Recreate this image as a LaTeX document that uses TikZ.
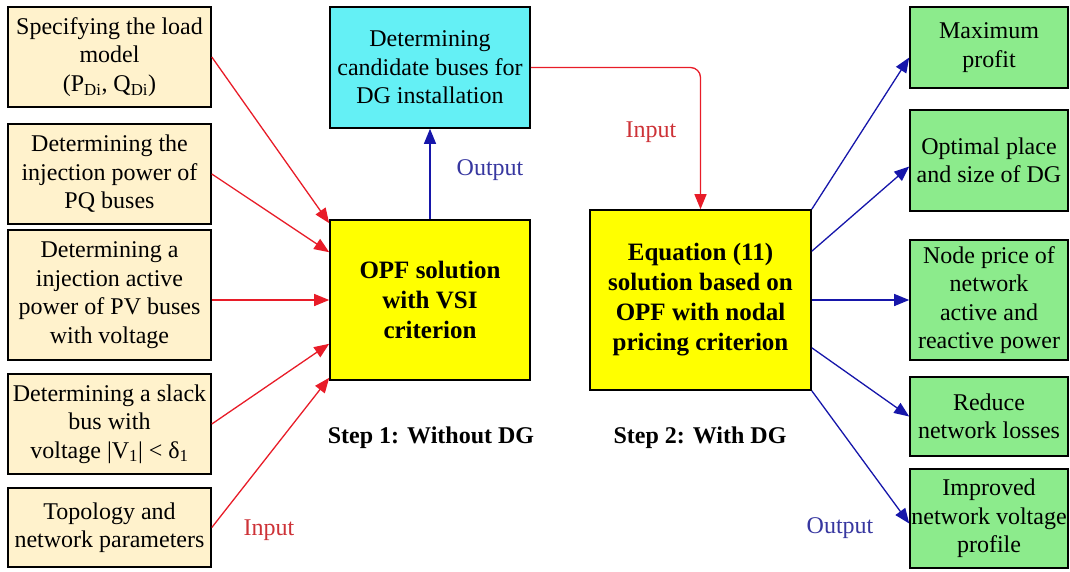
\documentclass[tikz,border=0pt]{standalone}
\usepackage{fontspec}
\setmainfont{Liberation Serif}
\usetikzlibrary{arrows.meta}

\definecolor{inbox}{RGB}{255,242,204}
\definecolor{candbox}{RGB}{100,240,245}
\definecolor{resbox}{RGB}{140,235,140}
\definecolor{solbox}{RGB}{255,255,0}
\definecolor{inred}{RGB}{232,28,40}
\definecolor{outblue}{RGB}{22,22,170}
\definecolor{inlabel}{RGB}{205,50,55}
\definecolor{outlabel}{RGB}{55,55,160}

\tikzset{
  box/.style={draw=black, line width=1.6pt, inner sep=0pt, align=center,
              font=\rmfamily\fontsize{24}{28.5}\selectfont},
  inputbox/.style={box, fill=inbox, minimum width=203pt},
  resultbox/.style={box, fill=resbox, minimum width=158pt},
  solvebox/.style={box, fill=solbox, font=\rmfamily\fontsize{25}{30}\selectfont\bfseries},
  redarrow/.style={draw=inred, line width=1.3pt, -{Triangle[length=15pt,width=12pt]}},
  bluearrow/.style={draw=outblue, line width=1.3pt, -{Triangle[length=15pt,width=12pt]}},
  lbl/.style={font=\rmfamily\fontsize{24}{28}\selectfont, inner sep=0pt},
  steplbl/.style={font=\rmfamily\fontsize{24}{28}\selectfont\bfseries, inner sep=0pt}
}

\begin{document}
\begin{tikzpicture}[x=1pt, y=-1pt]
\useasboundingbox (0,0) rectangle (1070,571);

% input data boxes
\node[inputbox, minimum height=100pt] (b1) at (109.5,57)
  {Specifying the load\\model\\(P\textsubscript{Di}, Q\textsubscript{Di})};
\node[inputbox, minimum height=100pt] (b2) at (109.5,174)
  {Determining the\\injection power of\\PQ buses};
\node[inputbox, minimum height=130pt] (b3) at (109.5,295)
  {Determining a\\injection active\\power of PV buses\\with voltage};
\node[inputbox, minimum height=100pt] (b4) at (109.5,424)
  {Determining a slack\\bus with\\voltage |V\textsubscript{1}| < δ\textsubscript{1}};
\node[inputbox, minimum height=79pt] (b5) at (109.5,527.5)
  {Topology and\\network parameters};

% step 1
\node[box, fill=candbox, minimum width=200pt, minimum height=121pt] (cand) at (430,67.5)
  {Determining\\candidate buses for\\DG installation};
\node[solvebox, minimum width=200pt, minimum height=160pt] (opf) at (430,300)
  {OPF solution\\with VSI\\criterion};

% step 2
\node[solvebox, minimum width=221pt, minimum height=180pt] (eq) at (700.5,300)
  {Equation (11)\\solution based on\\OPF with nodal\\pricing criterion};

% results
\node[resultbox, minimum height=81pt] (g1) at (989,47.5) {Maximum\\profit};
\node[resultbox, minimum height=101pt] (g2) at (989,160.5) {Optimal place\\and size of DG};
\node[resultbox, minimum height=120pt] (g3) at (989,300) {Node price of\\network\\active and\\reactive power};
\node[resultbox, minimum height=79pt] (g4) at (989,416.5) {Reduce\\network losses};
\node[resultbox, minimum height=99pt] (g5) at (989,518.5) {Improved\\network voltage\\profile};

% inputs into the OPF step
\draw[redarrow] (b1.east) -- ([yshift=-4pt]opf.north west);
\draw[redarrow] (b2.east) -- ([yshift=-33pt]opf.north west);
\draw[redarrow] (b3.east |- opf.west) -- (opf.west);
\draw[redarrow] (b4.east) -- ([yshift=37pt]opf.south west);
\draw[redarrow] (b5.east) -- ([yshift=3pt]opf.south west);

% step 1 output and link to step 2
\draw[bluearrow] (opf.north) -- (cand.south);
\draw[redarrow, rounded corners=10pt] (cand.east) -| (eq.north);

% step 2 outputs
\draw[bluearrow] (eq.north east) -- ([yshift=-10pt]g1.west);
\draw[bluearrow] ([yshift=-42pt]eq.north east) -- ([yshift=-6pt]g2.west);
\draw[bluearrow] (eq.east) -- (g3.west);
\draw[bluearrow] ([yshift=43pt]eq.south east) -- (g4.west);
\draw[bluearrow] (eq.south east) -- ([yshift=-5pt]g5.west);

% labels
\node[lbl, text=outlabel] (lout1) at (490,170) {Output};
\node[lbl, text=inlabel] (lin2) at (651,132) {Input};
\node[lbl, text=inlabel] (lin1) at (269,530) {Input};
\node[lbl, text=outlabel] (lout2) at (840,528) {Output};
\node[steplbl] (s1) at (431,438) {Step 1: Without DG};
\node[steplbl] (s2) at (700,438) {Step 2: With DG};
\end{tikzpicture}
\end{document}
